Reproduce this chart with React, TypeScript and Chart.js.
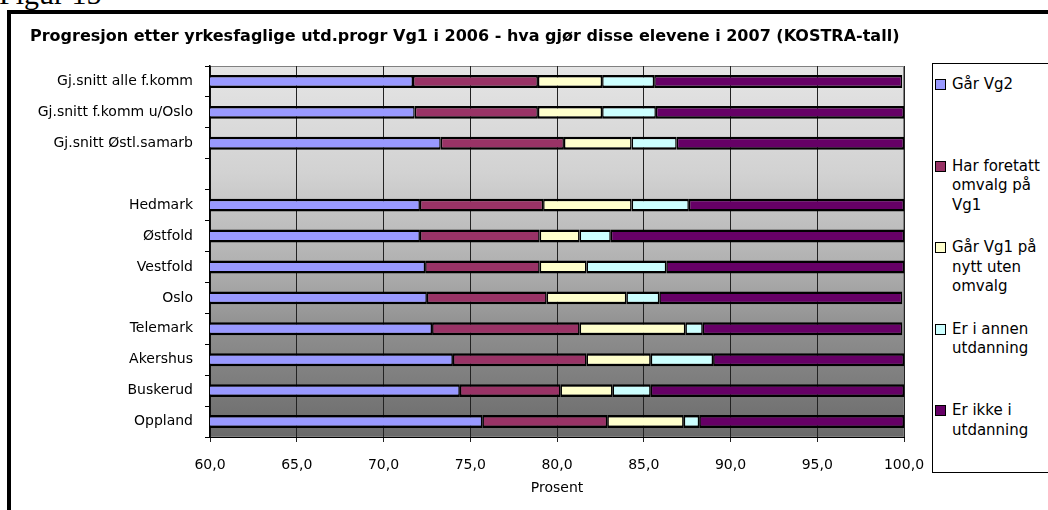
import React, { useEffect, useRef } from "react";
import { Chart, registerables } from "chart.js";

Chart.register(...registerables);

const categories = [
  "Gj.snitt alle f.komm",
  "Gj.snitt f.komm u/Oslo",
  "Gj.snitt Østl.samarb",
  "",
  "Hedmark",
  "Østfold",
  "Vestfold",
  "Oslo",
  "Telemark",
  "Akershus",
  "Buskerud",
  "Oppland",
];

const seriesLabels = [
  "Går Vg2",
  "Har foretatt omvalg på Vg1",
  "Går Vg1 på nytt uten omvalg",
  "Er i annen utdanning",
  "Er ikke i utdanning",
];
const seriesColors = ["#9999FF", "#993366", "#FFFFCC", "#CCFFFF", "#660066"];

const garVg2 = [71.7, 71.8, 73.3, null, 72.1, 72.1, 72.4, 72.5, 72.8, 74.0, 74.4, 75.7];
const omvalg = [7.2, 7.1, 7.1, null, 7.1, 6.9, 6.6, 6.9, 8.5, 7.7, 5.8, 7.2];
const nyttUtenOmvalg = [3.7, 3.7, 3.9, null, 5.1, 2.3, 2.7, 4.6, 6.1, 3.7, 3.0, 4.4];
const annenUtdanning = [3.0, 3.1, 2.6, null, 3.3, 1.8, 4.6, 1.9, 1.0, 3.6, 2.2, 0.9];
const ikkeUtdanning = [14.3, 14.3, 13.1, null, 12.4, 16.9, 13.7, 14.0, 11.5, 11.0, 14.6, 11.8];

const seriesValues = [garVg2, omvalg, nyttUtenOmvalg, annenUtdanning, ikkeUtdanning];

const xTickValues = [60, 65, 70, 75, 80, 85, 90, 95, 100];

const titleText =
  "Progresjon etter yrkesfaglige utd.progr Vg1 i 2006 - hva gjør disse elevene i 2007 (KOSTRA-tall)";
const xTitle = "Prosent";

const FONT = "'DejaVu Sans', 'Liberation Sans', Arial, sans-serif";

export default function App() {
  const ref = useRef<HTMLCanvasElement>(null);

  useEffect(() => {
    if (!ref.current) return;
    const bgPlugin = {
      id: "plotBg",
      beforeDraw(chart: any) {
        const { ctx, chartArea: a } = chart;
        const g = ctx.createLinearGradient(0, a.top, 0, a.bottom);
        g.addColorStop(0, "#E5E5E5");
        g.addColorStop(0.29, "#D2D2D2");
        g.addColorStop(0.55, "#AEAEAE");
        g.addColorStop(0.71, "#8F8F8F");
        g.addColorStop(1, "#6A6A6A");
        ctx.save();
        ctx.fillStyle = g;
        ctx.fillRect(a.left, a.top, a.right - a.left, a.bottom - a.top);
        ctx.strokeStyle = "#808080";
        ctx.lineWidth = 1;
        ctx.strokeRect(a.left + 0.5, a.top + 0.5, a.right - a.left - 1, a.bottom - a.top - 1);
        ctx.restore();
      },
    };

    const chart = new Chart(ref.current, {
      type: "bar",
      data: {
        labels: categories,
        datasets: seriesValues.map((vals, i) => ({
          label: seriesLabels[i],
          data: vals as any,
          backgroundColor: seriesColors[i],
          borderColor: "#000000",
          borderWidth: { top: 2.5, bottom: 2.5, left: 1.5, right: 1.5 },
          borderSkipped: false,
          barPercentage: 0.42,
          categoryPercentage: 1,
        })),
      },
      options: {
        indexAxis: "y",
        animation: false,
        responsive: false,
        maintainAspectRatio: false,
        layout: { padding: { left: 30, right: 144, top: 0, bottom: 0 } },
        plugins: {
          legend: { display: false },
          tooltip: { enabled: false },
          title: {
            display: true,
            text: titleText,
            align: "start",
            color: "#000",
            font: { family: FONT, size: 16, weight: "bold" },
            padding: { top: 27, bottom: 19.8 },
          },
        },
        scales: {
          x: {
            stacked: true,
            min: 60,
            max: 100,
            afterBuildTicks: (s: any) => {
              s.ticks = xTickValues.map((v) => ({ value: v }));
            },
            afterFit: (s: any) => {
              s.height = 73;
            },
            ticks: {
              color: "#000",
              font: { family: FONT, size: 14 },
              padding: 15,
              maxRotation: 0,
              autoSkip: false,
              callback: (v: any) => Number(v).toFixed(1).replace(".", ","),
            },
            grid: { color: "#222222", lineWidth: 1, tickLength: 5, drawTicks: true },
            border: { display: true, color: "#000", width: 1 },
            title: {
              display: true,
              text: xTitle,
              color: "#000",
              font: { family: FONT, size: 14 },
              padding: { top: 0, bottom: 13.6 },
            },
          },
          y: {
            stacked: true,
            afterFit: (s: any) => {
              s.width = 180;
            },
            ticks: {
              color: "#000",
              font: { family: FONT, size: 14 },
              padding: 12,
              autoSkip: false,
            },
            grid: { drawOnChartArea: false, drawTicks: true, tickLength: 5, color: "#000" },
            border: { display: true, color: "#000", width: 1.5 },
          },
        },
      } as any,
      plugins: [bgPlugin],
    });
    return () => chart.destroy();
  }, []);

  return (
    <div
      style={{
        position: "fixed",
        left: 0,
        top: 0,
        width: 1048,
        height: 510,
        overflow: "hidden",
        background: "#fff",
      }}
    >
      <div
        style={{
          position: "absolute",
          left: -1,
          top: -21,
          fontFamily: "'Liberation Serif', 'Times New Roman', serif",
          fontSize: 30,
          lineHeight: "30px",
          whiteSpace: "nowrap",
          color: "#000",
        }}
      >
        Figur 15
      </div>
      <div
        style={{
          position: "absolute",
          left: 7,
          top: 10,
          width: 1200,
          height: 700,
          border: "4px solid #000",
          boxSizing: "border-box",
          background: "#fff",
        }}
      />
      <canvas
        ref={ref}
        width={1048}
        height={510}
        style={{ position: "absolute", left: 0, top: 0, width: 1048, height: 510 }}
      />
      <div
        style={{
          position: "absolute",
          left: 932,
          top: 63,
          width: 200,
          height: 410,
          border: "1px solid #000",
          boxSizing: "border-box",
          background: "#fff",
          display: "flex",
          flexDirection: "column",
          fontFamily: FONT,
          fontSize: 15,
          lineHeight: "19.5px",
          color: "#000",
        }}
      >
        {seriesLabels.map((lab, i) => (
          <div key={lab} style={{ flex: 1, position: "relative", paddingTop: 11, paddingLeft: 19 }}>
            <div
              style={{
                position: "absolute",
                left: 2,
                top: 15,
                width: 11,
                height: 11,
                boxSizing: "border-box",
                border: "1.5px solid #000",
                background: seriesColors[i],
              }}
            />
            <div style={{ width: 96 }}>{lab}</div>
          </div>
        ))}
      </div>
    </div>
  );
}
